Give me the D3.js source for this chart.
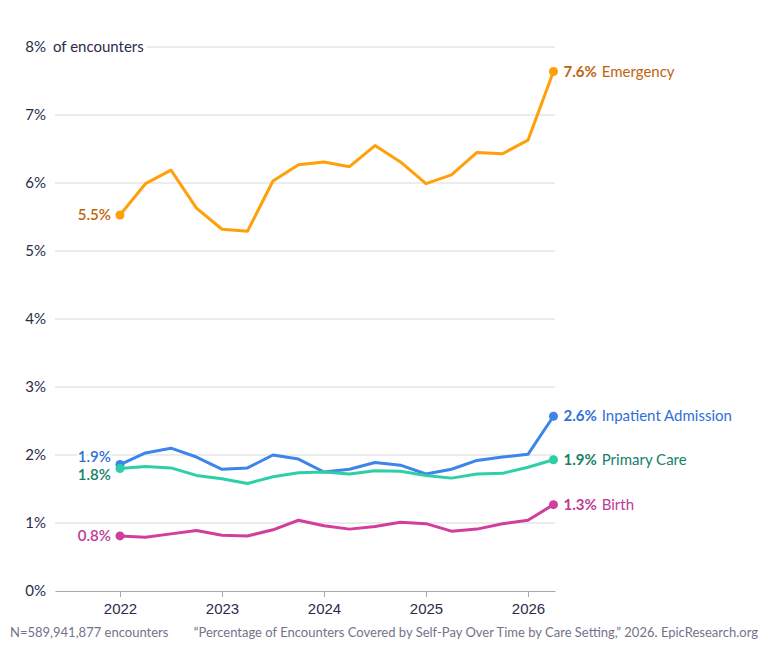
<!DOCTYPE html>
<html lang="en">
<head>
  <meta charset="UTF-8">
  <title>Self-Pay Encounters by Care Setting</title>
  <script src="https://d3js.org/d3.v7.min.js"></script>
  <style>
    body {
      margin: 0;
      background: #fff;
      font-family: Lato, "Open Sans", sans-serif;
    }
    .grid line { stroke: #d9d9d9; stroke-width: 1; }
    .ytick { font-size: 15px; fill: #2b2b4b; }
    .xtick { font-size: 15px; fill: #2b2b4b; }
    .note { font-size: 13px; fill: #73738a; }
  </style>
</head>
<body>
  <svg id="chart"></svg>
  <script>
    // quarterly points, 2022 Q1 .. 2026 Q2 (decimal years)
    const quarters = [2022, 2022.25, 2022.5, 2022.75, 2023, 2023.25, 2023.5, 2023.75,
      2024, 2024.25, 2024.5, 2024.75, 2025, 2025.25, 2025.5, 2025.75, 2026, 2026.25];

    const emergency = [5.53, 5.99, 6.19, 5.63, 5.32, 5.29, 6.03, 6.27, 6.31, 6.24, 6.55, 6.31,
      5.99, 6.12, 6.45, 6.43, 6.63, 7.64];
    const inpatient = [1.86, 2.03, 2.10, 1.97, 1.79, 1.81, 2.00, 1.94, 1.75, 1.79, 1.89, 1.85,
      1.72, 1.79, 1.92, 1.97, 2.01, 2.57];
    const primaryCare = [1.80, 1.83, 1.81, 1.70, 1.65, 1.58, 1.68, 1.74, 1.75, 1.72, 1.77, 1.76,
      1.70, 1.66, 1.72, 1.73, 1.82, 1.93];
    const birth = [0.81, 0.79, 0.84, 0.89, 0.82, 0.81, 0.90, 1.04, 0.96, 0.91, 0.95, 1.01,
      0.99, 0.88, 0.91, 0.99, 1.04, 1.27];

    const seriesNames = ["Emergency", "Inpatient Admission", "Primary Care", "Birth"];
    const startLabels = ["5.5%", "1.9%", "1.8%", "0.8%"];
    const endLabels = ["7.6%", "2.6%", "1.9%", "1.3%"];
    const lineColors = ["#ff9f0a", "#3d85e8", "#2ecfa6", "#d13f9c"];
    const textColors = ["#c0640c", "#2f6fd8", "#16806a", "#c03a95"];

    const yTicks = [0, 1, 2, 3, 4, 5, 6, 7, 8];
    const xTicks = [2022, 2023, 2024, 2025, 2026];
    const footLeft = "N=589,941,877 encounters";
    const footRight = "\u201cPercentage of Encounters Covered by Self-Pay Over Time by Care Setting,\u201d 2026. EpicResearch.org";

    const series = [emergency, inpatient, primaryCare, birth];

    const width = 768;
    const height = 650;

    const svg = d3.select("#chart")
      .attr("width", width)
      .attr("height", height);

    const x = d3.scaleLinear()
      .domain([2021.363, 2026.265])
      .range([55, 555]);

    const y = d3.scaleLinear()
      .domain([0, 8])
      .range([591, 47]);

    // gridlines
    const grid = svg.append("g").attr("class", "grid");
    grid.selectAll("line")
      .data(yTicks.filter(d => d > 0))
      .enter()
      .append("line")
      .attr("x1", d => d === 8 ? 147 : x.range()[0])
      .attr("x2", x.range()[1])
      .attr("y1", d => y(d))
      .attr("y2", d => y(d));

    // y labels
    svg.append("g")
      .selectAll("text")
      .data(yTicks)
      .enter()
      .append("text")
      .attr("class", "ytick")
      .attr("x", 46)
      .attr("y", d => y(d))
      .attr("dy", "0.35em")
      .attr("text-anchor", "end")
      .text(d => d + "%");

    svg.append("text")
      .attr("class", "ytick")
      .attr("x", 53)
      .attr("y", y(8))
      .attr("dy", "0.35em")
      .text("of encounters");

    // x axis
    const xAxis = d3.axisBottom(x)
      .tickValues(xTicks)
      .tickFormat(d3.format("d"))
      .tickSize(6)
      .tickPadding(6)
      .tickSizeOuter(0);

    const gx = svg.append("g")
      .attr("transform", `translate(0, ${y(0)})`)
      .call(xAxis);
    gx.select(".domain").attr("stroke", "#a8a8a8");
    gx.selectAll(".tick line").attr("stroke", "#a8a8a8");
    gx.selectAll(".tick text")
      .attr("class", "xtick")
      .attr("fill", null)
      .attr("font-family", null)
      .attr("font-size", null);

    // lines
    const line = d3.line()
      .x((d, i) => x(quarters[i]))
      .y(d => y(d));

    const last = quarters.length - 1;

    series.forEach((vals, s) => {
      const g = svg.append("g");

      g.append("path")
        .datum(vals)
        .attr("fill", "none")
        .attr("stroke", lineColors[s])
        .attr("stroke-width", 3)
        .attr("stroke-linejoin", "round")
        .attr("d", line);

      g.selectAll("circle")
        .data([0, last])
        .enter()
        .append("circle")
        .attr("cx", i => x(quarters[i]))
        .attr("cy", i => y(vals[i]))
        .attr("r", 4.5)
        .attr("fill", lineColors[s]);
    });

    // start labels (with white halo), small nudges to keep the two close ones apart
    const startNudge = [0, -8, 6, 0];
    svg.append("g")
      .selectAll("text")
      .data(series)
      .enter()
      .append("text")
      .attr("x", x(quarters[0]) - 9)
      .attr("y", (d, s) => y(d[0]) + startNudge[s])
      .attr("dy", "0.35em")
      .attr("text-anchor", "end")
      .attr("font-size", 15)
      .attr("font-weight", 600)
      .attr("fill", (d, s) => textColors[s])
      .attr("stroke", "#fff")
      .attr("stroke-width", 4)
      .attr("paint-order", "stroke")
      .text((d, s) => startLabels[s]);

    // end labels
    const endG = svg.append("g")
      .selectAll("text")
      .data(series)
      .enter()
      .append("text")
      .attr("x", x(quarters[last]) + 10)
      .attr("y", d => y(d[last]))
      .attr("dy", "0.35em")
      .attr("font-size", 15)
      .attr("fill", (d, s) => textColors[s]);

    endG.append("tspan")
      .attr("font-weight", 700)
      .text((d, s) => endLabels[s]);
    endG.append("tspan")
      .attr("dx", 5)
      .text((d, s) => seriesNames[s]);

    // footer
    svg.append("text")
      .attr("class", "note")
      .attr("x", 10)
      .attr("y", 637)
      .text(footLeft);

    svg.append("text")
      .attr("class", "note")
      .attr("x", 758)
      .attr("y", 637)
      .attr("text-anchor", "end")
      .text(footRight);
  </script>
</body>
</html>
